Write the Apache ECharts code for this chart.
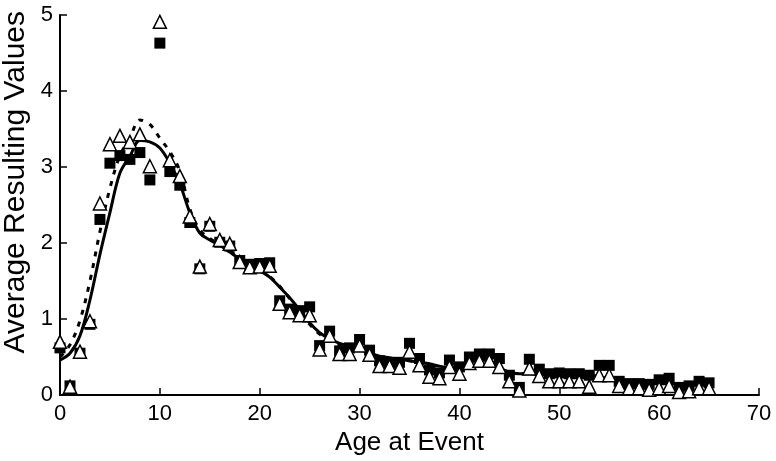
<!DOCTYPE html>
<html>
<head>
<meta charset="utf-8">
<script src="https://cdn.jsdelivr.net/npm/echarts@6/dist/echarts.min.js"></script>
<style>html,body{margin:0;padding:0;background:#fff;}#c{width:776px;height:461px;}</style>
</head>
<body>
<div id="c"></div>
<script>
const ages = [0,1,2,3,4,5,6,7,8,9,10,11,12,13,14,15,16,17,18,19,20,21,22,23,24,25,26,27,28,29,30,31,32,33,34,35,36,37,38,39,40,41,42,43,44,45,46,47,48,49,50,51,52,53,54,55,56,57,58,59,60,61,62,63,64,65];
const squares = [0.62,0.12,0.55,0.93,2.31,3.05,3.15,3.10,3.19,2.83,4.63,2.94,2.76,2.27,1.66,2.22,2.01,1.96,1.77,1.72,1.73,1.74,1.24,1.13,1.11,1.16,0.65,0.84,0.58,0.62,0.73,0.59,0.45,0.42,0.43,0.68,0.48,0.33,0.29,0.46,0.37,0.50,0.54,0.54,0.48,0.26,0.10,0.47,0.34,0.28,0.29,0.28,0.28,0.26,0.39,0.39,0.18,0.15,0.15,0.14,0.20,0.22,0.10,0.12,0.18,0.16];
const triangles = [0.70,0.11,0.57,0.97,2.52,3.30,3.41,3.33,3.43,3.01,4.91,3.09,2.88,2.35,1.69,2.25,2.04,1.99,1.75,1.68,1.69,1.70,1.20,1.09,1.05,1.05,0.60,0.78,0.54,0.54,0.65,0.53,0.38,0.38,0.36,0.57,0.39,0.24,0.22,0.37,0.28,0.42,0.45,0.45,0.37,0.18,0.06,0.35,0.25,0.18,0.18,0.18,0.18,0.11,0.26,0.26,0.12,0.09,0.09,0.07,0.09,0.12,0.04,0.05,0.09,0.09];
const solidLine = [0.46,0.55,0.78,1.25,1.85,2.40,2.92,3.14,3.35,3.33,3.25,3.05,2.78,2.40,2.13,2.04,1.97,1.88,1.79,1.71,1.64,1.55,1.42,1.28,1.12,0.95,0.82,0.74,0.68,0.65,0.62,0.56,0.51,0.49,0.47,0.45,0.43,0.41,0.38,0.36,0.38,0.43,0.46,0.44,0.36,0.30,0.28,0.28,0.27,0.27,0.27,0.27,0.27,0.26,0.24,0.21,0.18,0.17,0.16,0.16,0.15,0.15,0.14,0.14,0.14,0.14];
const dashedLine = [0.50,0.66,0.98,1.50,2.15,2.72,3.15,3.38,3.62,3.56,3.38,3.20,2.95,2.45,2.17,2.06,1.98,1.90,1.80,1.72,1.65,1.56,1.43,1.27,1.10,0.93,0.80,0.72,0.66,0.63,0.60,0.55,0.50,0.48,0.46,0.45,0.42,0.39,0.36,0.35,0.38,0.44,0.47,0.45,0.37,0.30,0.28,0.28,0.27,0.27,0.27,0.27,0.27,0.26,0.24,0.21,0.18,0.17,0.16,0.16,0.15,0.15,0.14,0.14,0.14,0.14];
const xTicks = [0,10,20,30,40,50,60,70];
const yTicks = [0,1,2,3,4,5];

const pair = arr => ages.map((a,i)=>[a,arr[i]]);
const font = 'Liberation Sans, Arial, Helvetica, sans-serif';
const chart = echarts.init(document.getElementById('c'), null, {renderer:'canvas'});
chart.setOption({
  animation:false,
  backgroundColor:'#fff',
  grid:{left:60,right:17,top:15,bottom:66,containLabel:false},
  xAxis:{type:'value',min:xTicks[0],max:xTicks[xTicks.length-1],interval:10,
    name:'Age at Event',nameLocation:'middle',nameGap:33,
    nameTextStyle:{fontFamily:font,fontSize:26,color:'#000'},
    axisLine:{lineStyle:{color:'#000',width:2}},
    axisTick:{inside:true,length:7,lineStyle:{color:'#000',width:1.5}},
    axisLabel:{fontFamily:font,fontSize:22,color:'#000',margin:8},
    splitLine:{show:false}},
  yAxis:{type:'value',min:yTicks[0],max:yTicks[yTicks.length-1],interval:1,
    axisLine:{show:true,lineStyle:{color:'#000',width:2}},
    axisTick:{show:true,inside:true,length:7,lineStyle:{color:'#000',width:1.5}},
    axisLabel:{fontFamily:font,fontSize:22,color:'#000',margin:7},
    splitLine:{show:false}},
  graphic:[{type:'text',left:1,top:11,rotation:Math.PI/2,
    style:{text:'Average Resulting Values',fontFamily:font,fontSize:30,fill:'#000'}}],
  series:[
    {type:'line',data:pair(solidLine),smooth:0.35,showSymbol:false,z:2,
     lineStyle:{color:'#000',width:3}},
    {type:'line',data:pair(dashedLine),smooth:0.35,showSymbol:false,z:2,
     lineStyle:{color:'#000',width:3,type:[5,7]}},
    {type:'scatter',data:pair(squares),symbol:'rect',symbolSize:11,z:3,
     itemStyle:{color:'#000',opacity:1}},
    {type:'scatter',data:pair(triangles),symbol:'triangle',symbolSize:13,z:4,
     itemStyle:{color:'#fff',borderColor:'#000',borderWidth:1.5,opacity:1}}
  ]
});
</script>
</body>
</html>
